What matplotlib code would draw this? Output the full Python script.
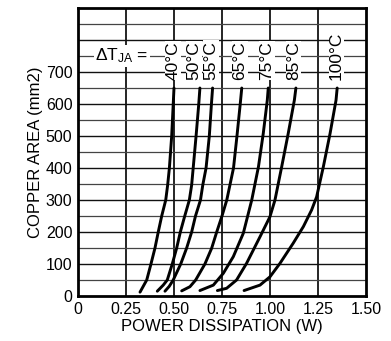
import matplotlib
matplotlib.use("Agg")
import matplotlib.pyplot as plt
import numpy as np

plt.rcParams['font.family'] = ['Liberation Sans', 'DejaVu Sans']
plt.rcParams['mathtext.fontset'] = 'custom'
plt.rcParams['mathtext.rm'] = 'Liberation Sans'
plt.rcParams['mathtext.default'] = 'regular'

# curves: power (W) vs copper area (mm2)
labels = ["40°C", "50°C", "55°C", "65°C", "75°C", "85°C", "100°C"]
power = [
    [0.323, 0.358, 0.380, 0.401, 0.418, 0.436, 0.457, 0.467, 0.476, 0.488, 0.496, 0.500],
    [0.413, 0.444, 0.465, 0.491, 0.514, 0.533, 0.556, 0.580, 0.592, 0.600, 0.615, 0.629, 0.635],
    [0.453, 0.475, 0.496, 0.535, 0.566, 0.592, 0.612, 0.638, 0.650, 0.667, 0.684, 0.695, 0.701],
    [0.540, 0.583, 0.613, 0.661, 0.696, 0.722, 0.750, 0.775, 0.810, 0.828, 0.845, 0.853],
    [0.635, 0.705, 0.757, 0.809, 0.861, 0.905, 0.940, 0.965, 0.986, 0.991],
    [0.726, 0.774, 0.826, 0.878, 0.948, 1.000, 1.026, 1.061, 1.095, 1.127, 1.135],
    [0.865, 0.948, 1.000, 1.052, 1.121, 1.174, 1.217, 1.243, 1.278, 1.313, 1.344, 1.350],
]
area = [
    [12, 50, 100, 150, 200, 250, 300, 347, 400, 500, 600, 650],
    [15, 34, 50, 100, 150, 200, 250, 300, 347, 400, 500, 600, 650],
    [15, 30, 50, 100, 150, 200, 250, 300, 347, 400, 500, 600, 650],
    [16, 29, 50, 100, 149, 199, 250, 300, 400, 500, 600, 650],
    [17, 34, 71, 123, 196, 300, 404, 508, 612, 650],
    [17, 24, 50, 102, 185, 248, 300, 404, 508, 612, 650],
    [17, 34, 60, 102, 165, 217, 269, 310, 404, 508, 612, 650],
]
# where the temperature labels sit along x
label_x = [0.495, 0.603, 0.694, 0.844, 0.983, 1.122, 1.347]

fig = plt.figure(figsize=(3.91, 3.41), dpi=100)
ax = fig.add_axes([0.1995, 0.132, 0.7365, 0.8445])

ax.set_xlim(0, 1.5)
ax.set_ylim(0, 900)

# grid
for xv in np.arange(0.25, 1.5, 0.25):
    ax.axvline(xv, color='black', lw=1.2, zorder=1)
for yv in np.arange(50, 900, 50):
    if yv % 100 == 0:
        ax.axhline(yv, color='#111111', lw=1.0, zorder=1)
    else:
        ax.axhline(yv, color='#444444', lw=0.9, zorder=1)

for p, a in zip(power, area):
    ax.plot(p, a, color='black', lw=2.1, zorder=3, solid_capstyle='round')

for lx, lab in zip(label_x, labels):
    ax.text(lx, 676, lab, rotation=90, ha='center', va='bottom', fontsize=12.5,
            zorder=4, bbox=dict(facecolor='white', edgecolor='none', pad=0.3))

ax.text(0.09, 750, "ΔT$_{JA}$ =", ha='left', va='center', fontsize=12.5, zorder=4,
        bbox=dict(facecolor='white', edgecolor='none', pad=1.0))

ax.set_xticks([0, 0.25, 0.5, 0.75, 1.0, 1.25, 1.5])
ax.set_xticklabels(["0", "0.25", "0.50", "0.75", "1.00", "1.25", "1.50"])
ax.set_yticks(np.arange(0, 800, 100))
ax.tick_params(length=0, labelsize=11.5, pad=4)
for s in ax.spines.values():
    s.set_linewidth(2.0)
    s.set_zorder(5)

ax.set_xlabel("POWER DISSIPATION (W)", fontsize=12, labelpad=2)
ax.set_ylabel("COPPER AREA (mm2)", fontsize=12, labelpad=2)

fig.savefig("out.png", dpi=100)
